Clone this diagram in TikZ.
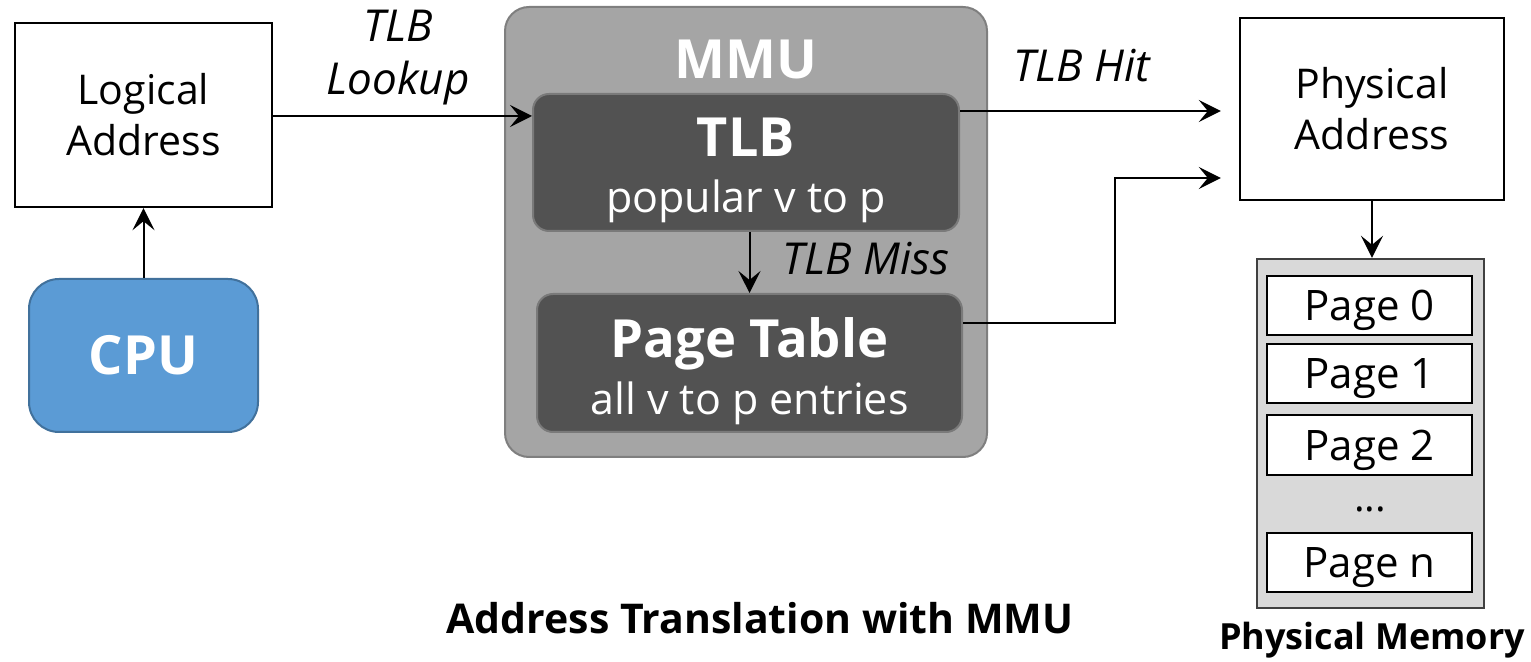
\documentclass[tikz,border=0pt]{standalone}
\usepackage{fontspec}
\setmainfont{Open Sans}
\usetikzlibrary{arrows.meta,calc}
\definecolor{cpublue}{HTML}{5B9BD5}
\definecolor{cpuborder}{HTML}{41719C}
\definecolor{mmufill}{HTML}{A5A5A5}
\definecolor{mmuborder}{HTML}{7F7F7F}
\definecolor{darkfill}{HTML}{525252}
\definecolor{darkborder}{HTML}{7A7A7A}
\definecolor{memfill}{HTML}{D9D9D9}
\definecolor{memborder}{HTML}{404040}
\tikzset{
  plainbox/.style={draw=black, line width=1.2pt, fill=white, align=center, inner sep=0pt,
    font=\fontsize{20.5}{25.5}\selectfont},
  pagebox/.style={draw=black, line width=1pt, fill=white, inner sep=0pt, text depth=0pt,
    minimum width=102.5pt, minimum height=29.5pt, font=\fontsize{21}{24}\selectfont},
  darkbox/.style={draw=darkborder, line width=1pt, fill=darkfill, rounded corners=8pt,
    text=white, align=center, inner sep=0pt, font=\fontsize{21.5}{28}\selectfont},
  arr/.style={line width=1pt, -{Stealth[length=11pt,width=11pt,inset=4.5pt]}},
  lbl/.style={font=\fontsize{22}{26.5}\selectfont\itshape, align=center, inner sep=0pt},
  bigbold/.style={font=\fontsize{27}{30}\selectfont\bfseries},
}
\begin{document}
\begin{tikzpicture}[x=0.5pt,y=-0.5pt]
\useasboundingbox (0,0) rectangle (1531,662);
% MMU container
\node[draw=mmuborder, line width=1pt, fill=mmufill, rounded corners=12pt,
  minimum width=241pt, minimum height=225pt, inner sep=0pt] (mmu) at (746,232) {};
\node[text=white, bigbold, inner sep=0pt] (mmulabel) at (746,59) {MMU};
% boxes
\node[plainbox, minimum width=128.5pt, minimum height=92pt] (logical) at (143.5,115) {Logical\\Address};
\node[draw=cpuborder, line width=1pt, fill=cpublue, rounded corners=15pt, text=white,
  minimum width=114.5pt, minimum height=76.5pt, inner sep=0pt, bigbold] (cpu) at (143.5,355.5) {CPU};
\node[darkbox, minimum width=213pt, minimum height=68.5pt] (tlb) at (746,162.5)
  {\rule{0pt}{27.5pt}{\fontsize{27}{28}\selectfont\bfseries TLB}\\{popular v to p}};
\node[darkbox, minimum width=212.5pt, minimum height=69pt] (pt) at (749.5,363)
  {\rule{0pt}{28.5pt}{\fontsize{26.3}{28}\selectfont\bfseries Page Table}\\[0.5pt]{all v to p entries}};
\node[plainbox, minimum width=132pt, minimum height=91pt] (phys) at (1372,109) {Physical\\Address};
% physical memory
\node[draw=memborder, line width=1.2pt, fill=memfill, minimum width=113.5pt, minimum height=174.5pt,
  inner sep=0pt] (mem) at (1370.5,433.5) {};
\node[pagebox] (p0) at (1369.5,305.5) {Page 0};
\node[pagebox] (p1) at (1369.5,373.5) {Page 1};
\node[pagebox] (p2) at (1369.5,445) {Page 2};
\node[font=\fontsize{20}{24}\selectfont, inner sep=0pt] (dots) at (1370,509) {...};
\node[pagebox] (pn) at (1369.5,562.5) {Page n};
% labels
\node[lbl] (lookup) at (398,58) {TLB\\Lookup};
\node[lbl] (hit) at (1082,66) {TLB Hit};
\node[lbl, anchor=west] (miss) at (782,259) {TLB Miss};
\node[font=\fontsize{20.5}{26}\selectfont\bfseries, inner sep=0pt] (caption) at (760,618) {Address Translation with MMU};
\node[font=\fontsize{18}{22}\selectfont\bfseries, inner sep=0pt] (memlabel) at (1372,640) {Physical Memory};
% connectors
\draw[arr] (cpu.north) -- (logical.south);
\draw[arr] ([yshift=-0.5pt]logical.east) -- ([yshift=-0.5pt]logical.east -| tlb.west);
\coordinate (hitstart) at ([yshift=25.75pt]tlb.east);
\draw[arr, shorten >=9pt] (hitstart) -- (hitstart -| phys.west);
\draw[arr] (tlb.south -| pt.north) -- (pt.north);
\draw[arr, shorten >=9pt] ([yshift=20pt]pt.east) -- ++(76pt,0) |- ([yshift=-34.5pt]phys.west);
\draw[arr] (phys.south) -- (phys.south |- mem.north);
\end{tikzpicture}
\end{document}
